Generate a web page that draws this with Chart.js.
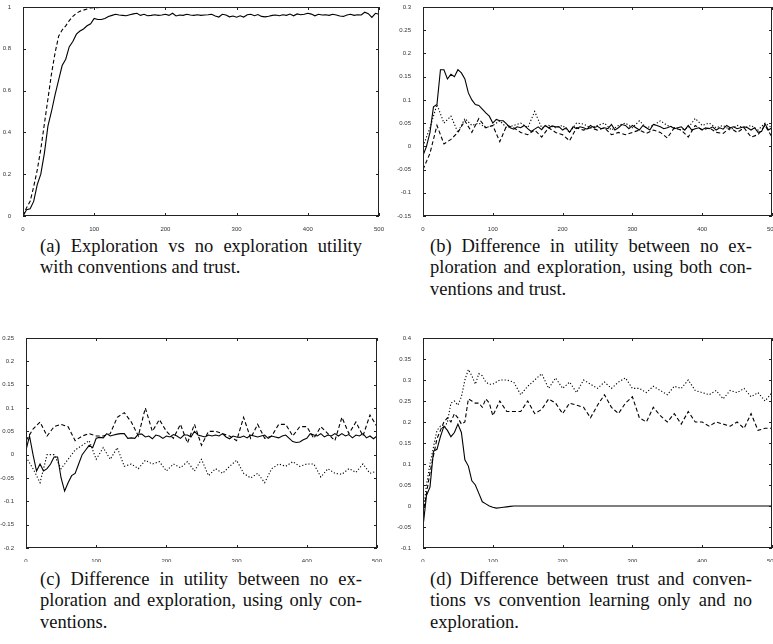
<!DOCTYPE html>
<html>
<head>
<meta charset="utf-8">
<script src="https://cdn.jsdelivr.net/npm/chart.js@4.4.1/dist/chart.umd.min.js"></script>
<style>
    body { margin: 0; background: #fff; width: 773px; height: 644px; position: relative; overflow: hidden; }
    canvas { position: absolute; }
    .cap { position: absolute; width: 322px; font-family: "Liberation Serif", "Times New Roman", serif; font-size: 18.5px; line-height: 21.3px; color: #111; }
    .cap div { white-space: nowrap; }
    .cap .j { text-align: justify; text-align-last: justify; word-spacing: -4px; }
</style>
</head>
<body>
<canvas id="chartA" width="386" height="232" style="left:0;top:0"></canvas>
<canvas id="chartB" width="383" height="232" style="left:390px;top:0"></canvas>
<canvas id="chartC" width="386" height="232" style="left:0;top:330px"></canvas>
<canvas id="chartD" width="383" height="232" style="left:390px;top:330px"></canvas>

<div class="cap" style="left:40px;top:236px">
    <div class="j">(a) Exploration vs no exploration utility</div>
    <div>with conventions and trust.</div>
</div>
<div class="cap" style="left:430px;top:236px">
    <div class="j">(b) Difference in utility between no ex-</div>
    <div class="j">ploration and exploration, using both con-</div>
    <div>ventions and trust.</div>
</div>
<div class="cap" style="left:40px;top:569px">
    <div class="j">(c) Difference in utility between no ex-</div>
    <div class="j">ploration and exploration, using only con-</div>
    <div>ventions.</div>
</div>
<div class="cap" style="left:430px;top:569px">
    <div class="j">(d) Difference between trust and conven-</div>
    <div class="j">tions vs convention learning only and no</div>
    <div>exploration.</div>
</div>

<script>
// x positions (time steps)
function range(from, to, step) {
    let out = [];
    for (let v = from; v <= to + 1e-9; v += step) out.push(v);
    return out;
}
const x5 = range(0, 500, 5);
const x10 = range(0, 500, 10);
const xEarly5Late10 = range(0, 100, 5).concat(range(110, 500, 10));
const xTicks = [0, 100, 200, 300, 400, 500];

// (a) exploration vs no exploration utility
const aSolid = [
    0.0, 0.03, 0.035, 0.07, 0.15, 0.2, 0.3, 0.43, 0.5, 0.58,
    0.65, 0.72, 0.75, 0.81, 0.835, 0.87, 0.885, 0.895, 0.91, 0.92,
    0.945, 0.94, 0.94, 0.945, 0.955, 0.96, 0.965, 0.962, 0.96, 0.958,
    0.963, 0.967, 0.97, 0.96, 0.965, 0.958, 0.96, 0.963, 0.96, 0.962,
    0.965, 0.96, 0.97, 0.957, 0.962, 0.96, 0.965, 0.962, 0.96, 0.963,
    0.96, 0.962, 0.963, 0.965, 0.957, 0.952, 0.965, 0.962, 0.953, 0.957,
    0.951, 0.958, 0.952, 0.963, 0.965, 0.958, 0.964, 0.955, 0.953, 0.956,
    0.96, 0.962, 0.958, 0.963, 0.96, 0.966, 0.958, 0.967, 0.963, 0.965,
    0.97, 0.966, 0.958, 0.965, 0.962, 0.963, 0.96, 0.965, 0.962, 0.957,
    0.955, 0.962, 0.965, 0.96, 0.963, 0.962, 0.975, 0.968, 0.95, 0.97,
    0.965
];
const aDashedX = range(0, 100, 5).concat([150, 200, 250, 300, 350, 400, 450, 500]);
const aDashed = [
    0, 0.04, 0.07, 0.14, 0.22, 0.32, 0.44, 0.56, 0.68, 0.78,
    0.86, 0.89, 0.91, 0.935, 0.955, 0.97, 0.98, 0.985, 0.99, 0.995,
    0.997, 1, 1, 1, 1, 1, 1, 1, 1
];

// (b) both conventions and trust
const bSolid = [
    -0.02, 0.0, 0.03, 0.085, 0.09, 0.165, 0.165, 0.145, 0.155, 0.15,
    0.165, 0.158, 0.145, 0.115, 0.1, 0.09, 0.088, 0.08, 0.072, 0.065,
    0.05, 0.058, 0.055, 0.055, 0.048, 0.04, 0.037, 0.042, 0.04, 0.045,
    0.038, 0.032, 0.037, 0.042, 0.036, 0.045, 0.04, 0.044, 0.042, 0.042,
    0.035, 0.04, 0.03, 0.042, 0.038, 0.042, 0.04, 0.037, 0.045, 0.04,
    0.043, 0.038, 0.04, 0.038, 0.047, 0.035, 0.04, 0.047, 0.045, 0.038,
    0.045, 0.04, 0.035, 0.045, 0.04, 0.035, 0.047, 0.045, 0.042, 0.038,
    0.04, 0.043, 0.038, 0.04, 0.042, 0.035, 0.045, 0.035, 0.038, 0.04,
    0.036, 0.04, 0.038, 0.042, 0.035, 0.04, 0.037, 0.045, 0.04, 0.042,
    0.038, 0.04, 0.042, 0.04, 0.035, 0.04, 0.03, 0.032, 0.048, 0.035,
    0.04
];
const bDotted = [
    0.0, 0.04, 0.09, 0.05, 0.065, 0.03, 0.06, 0.045, 0.05, 0.04,
    0.045, 0.055, 0.04, 0.045, 0.05, 0.04, 0.075, 0.04, 0.045, 0.04,
    0.045, 0.03, 0.05, 0.048, 0.04, 0.045, 0.05, 0.035, 0.045, 0.05,
    0.04, 0.055, 0.04, 0.045, 0.055, 0.045, 0.04, 0.035, 0.04, 0.06,
    0.045, 0.05, 0.04, 0.045, 0.035, 0.045, 0.04, 0.045, 0.035, 0.05,
    0.04
];
const bDashed = [
    -0.05, -0.015, 0.045, 0.005, 0.015, 0.03, 0.055, 0.03, 0.06, 0.04,
    0.045, 0.01, 0.045, 0.04, 0.03, 0.025, 0.035, 0.02, 0.04, 0.03,
    0.025, 0.012, 0.04, 0.035, 0.04, 0.035, 0.04, 0.025, 0.03, 0.025,
    0.03, 0.035, 0.028, 0.035, 0.03, 0.018, 0.04, 0.035, 0.02, 0.045,
    0.035, 0.04, 0.03, 0.028, 0.04, 0.03, 0.04, 0.02, 0.025, 0.045,
    0.02
];

// (c) only conventions
const cSolid = [
    0.01, 0.04, 0.0, -0.035, -0.02, -0.035, -0.03, -0.02, -0.005, -0.005,
    -0.05, -0.078, -0.06, -0.045, -0.04, -0.02, 0.0, 0.01, 0.02, 0.015,
    0.035, 0.037, 0.036, 0.045, 0.04, 0.042, 0.044, 0.045, 0.045, 0.035,
    0.036, 0.035, 0.044, 0.044, 0.038, 0.04, 0.034, 0.042, 0.04, 0.035,
    0.04, 0.038, 0.043, 0.04, 0.035, 0.042, 0.042, 0.038, 0.05, 0.042,
    0.04, 0.038, 0.042, 0.04, 0.042, 0.04, 0.045, 0.038, 0.034, 0.04,
    0.038, 0.037, 0.04, 0.036, 0.042, 0.04, 0.038, 0.04, 0.042, 0.035,
    0.04, 0.038, 0.036, 0.04, 0.042, 0.035, 0.028, 0.026, 0.027, 0.032,
    0.035, 0.045, 0.042, 0.04, 0.045, 0.038, 0.042, 0.04, 0.045, 0.04,
    0.045, 0.04, 0.043, 0.036, 0.042, 0.04, 0.045, 0.036, 0.04, 0.034,
    0.04
];
const cDashed = [
    0.03, 0.055, 0.07, 0.04, 0.06, 0.065, 0.06, 0.03, 0.04, 0.045,
    0.04, 0.04, 0.045, 0.08, 0.09, 0.07, 0.04, 0.1, 0.05, 0.075,
    0.05, 0.035, 0.065, 0.025, 0.065, 0.02, 0.05, 0.05, 0.045, 0.04,
    0.03, 0.08, 0.035, 0.065, 0.035, 0.04, 0.065, 0.065, 0.04, 0.06,
    0.06, 0.035, 0.06, 0.045, 0.03, 0.08, 0.045, 0.07, 0.04, 0.085,
    0.06
];
const cDotted = [
    -0.005, -0.03, -0.06, 0.0, 0.0, -0.03, -0.01, 0.01, 0.02, 0.03,
    -0.01, 0.015, -0.01, 0.015, -0.025, -0.02, -0.03, -0.012, -0.02, -0.015,
    -0.035, -0.02, -0.028, -0.015, -0.035, -0.01, -0.045, -0.03, -0.04, -0.025,
    -0.012, -0.04, -0.05, -0.04, -0.06, -0.03, -0.02, -0.025, -0.015, -0.025,
    -0.02, -0.02, -0.048, -0.03, -0.04, -0.042, -0.03, -0.038, -0.02, -0.04,
    -0.035
];

// (d) trust and conventions vs conventions only, no exploration
const dSolidX = range(0, 130, 5).concat([500]);
const dSolid = [
    -0.05, 0.025, 0.045, 0.13, 0.135, 0.165, 0.19, 0.18, 0.165, 0.175,
    0.195, 0.175, 0.11, 0.095, 0.06, 0.05, 0.03, 0.01, 0.005, 0.0,
    -0.003, -0.005, -0.004, -0.003, -0.002, -0.001, 0, 0
];
const dDotted = [
    -0.02, 0.05, 0.1, 0.14, 0.18, 0.19, 0.185, 0.2, 0.245, 0.25,
    0.24, 0.26, 0.3, 0.325, 0.31, 0.29, 0.315, 0.31, 0.295, 0.29,
    0.29,
    0.3, 0.3, 0.295, 0.265, 0.285, 0.3, 0.315, 0.28, 0.305, 0.28,
    0.295, 0.27, 0.3, 0.29, 0.28, 0.295, 0.28, 0.295, 0.305, 0.28,
    0.28, 0.27, 0.285, 0.275, 0.265, 0.285, 0.28, 0.3, 0.275, 0.27,
    0.265, 0.275, 0.255, 0.275, 0.27, 0.28, 0.26, 0.27, 0.25, 0.27
];
const dDashed = [
    -0.02, 0.03, 0.08, 0.12, 0.16, 0.18, 0.2, 0.21, 0.2, 0.22,
    0.21, 0.195, 0.2, 0.255, 0.25, 0.245, 0.245, 0.235, 0.255, 0.245,
    0.215,
    0.25, 0.225, 0.225, 0.225, 0.25, 0.22, 0.23, 0.255, 0.245, 0.22,
    0.245, 0.24, 0.235, 0.21, 0.24, 0.265, 0.235, 0.22, 0.245, 0.26,
    0.21, 0.2, 0.235, 0.215, 0.2, 0.22, 0.195, 0.225, 0.2, 0.2,
    0.19, 0.2, 0.195, 0.19, 0.2, 0.185, 0.22, 0.18, 0.185, 0.185
];

const SOLID = [];
const DASHED = [4, 2.5];
const DOTTED = [1.2, 2];

function pts(xs, ys) {
    return ys.map((v, i) => ({ x: xs[i], y: v }));
}

function series(xs, ys, dash) {
    return {
        data: pts(xs, ys),
        borderColor: "#000",
        borderWidth: 1.1,
        borderDash: dash,
        pointRadius: 0,
        tension: 0,
        fill: false
    };
}

// box around the plot with matlab style inward ticks
const framePlugin = {
    id: "frame",
    afterDatasetsDraw(chart) {
        const { ctx, chartArea: a, scales } = chart;
        ctx.save();
        ctx.strokeStyle = "#222";
        ctx.lineWidth = 1;
        ctx.strokeRect(a.left + 0.5, a.top + 0.5, a.right - a.left - 1, a.bottom - a.top - 1);
        ctx.beginPath();
        scales.x.ticks.forEach(t => {
            let px = Math.round(scales.x.getPixelForValue(t.value)) + 0.5;
            ctx.moveTo(px, a.bottom); ctx.lineTo(px, a.bottom - 3);
            ctx.moveTo(px, a.top); ctx.lineTo(px, a.top + 3);
        });
        scales.y.ticks.forEach(t => {
            let py = Math.round(scales.y.getPixelForValue(t.value)) + 0.5;
            ctx.moveTo(a.left, py); ctx.lineTo(a.left + 3, py);
            ctx.moveTo(a.right, py); ctx.lineTo(a.right - 3, py);
        });
        ctx.stroke();
        ctx.restore();
    }
};

function makeChart(id, datasets, yMin, yMax, yStep, box) {
    const tickFont = { family: "Liberation Sans, Arial, sans-serif", size: 6 };
    return new Chart(document.getElementById(id), {
        type: "line",
        data: { datasets },
        options: {
            responsive: false,
            animation: false,
            events: [],
            layout: { padding: { top: box.top, right: box.right, left: 0, bottom: 0 } },
            plugins: { legend: { display: false }, tooltip: { enabled: false } },
            scales: {
                x: {
                    type: "linear",
                    min: 0,
                    max: 500,
                    afterBuildTicks: s => { s.ticks = xTicks.map(v => ({ value: v })); },
                    grid: { display: false },
                    border: { display: false },
                    ticks: { font: tickFont, color: "#333", padding: 2, maxRotation: 0, autoSkip: false },
                    afterFit: s => { s.height = box.xh; s.paddingLeft = 0; s.paddingRight = 0; }
                },
                y: {
                    min: yMin,
                    max: yMax,
                    grid: { display: false },
                    border: { display: false },
                    ticks: {
                        stepSize: yStep,
                        font: tickFont,
                        color: "#333",
                        padding: 4,
                        callback: v => String(+v.toFixed(2))
                    },
                    afterFit: s => { s.width = box.yw; s.paddingTop = 0; s.paddingBottom = 0; }
                }
            }
        },
        plugins: [framePlugin]
    });
}

makeChart("chartA", [
    series(x5, aSolid, SOLID),
    series(aDashedX, aDashed, DASHED)
], 0, 1, 0.2, { top: 7, right: 7, yw: 23, xh: 16 });

makeChart("chartB", [
    series(x10, bDashed, DASHED),
    series(x10, bDotted, DOTTED),
    series(x5, bSolid, SOLID)
], -0.15, 0.3, 0.05, { top: 7, right: 1, yw: 33, xh: 16 });

makeChart("chartC", [
    series(x10, cDashed, DASHED),
    series(x10, cDotted, DOTTED),
    series(x5, cSolid, SOLID)
], -0.2, 0.25, 0.05, { top: 8, right: 9, yw: 26, xh: 14 });

makeChart("chartD", [
    series(xEarly5Late10, dDashed, DASHED),
    series(xEarly5Late10, dDotted, DOTTED),
    series(dSolidX, dSolid, SOLID)
], -0.1, 0.4, 0.05, { top: 8, right: 1, yw: 33, xh: 14 });
</script>
</body>
</html>
